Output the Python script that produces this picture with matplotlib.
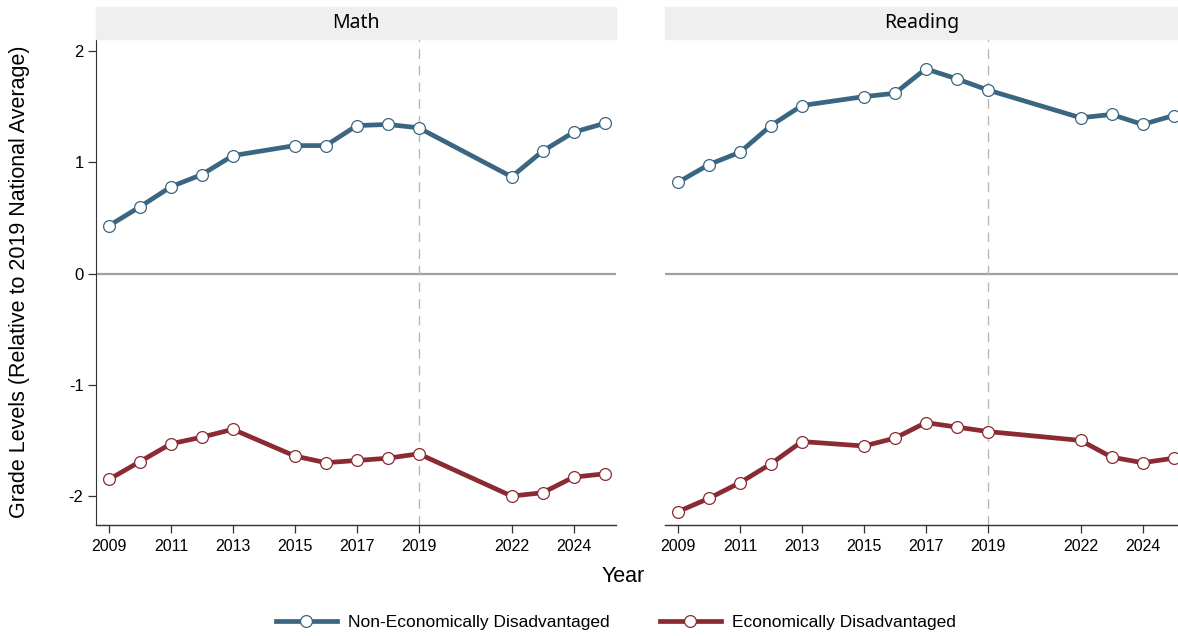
import matplotlib
matplotlib.use("Agg")
import matplotlib.pyplot as plt
from matplotlib.ticker import FuncFormatter
from matplotlib.lines import Line2D

years = [2009, 2010, 2011, 2012, 2013, 2015, 2016, 2017, 2018, 2019, 2022, 2023, 2024, 2025]
tick_years = [2009, 2011, 2013, 2015, 2017, 2019, 2022, 2024]

math_non_ed = [0.43, 0.60, 0.78, 0.89, 1.06, 1.15, 1.15, 1.33, 1.34, 1.31, 0.87, 1.10, 1.27, 1.35]
math_ed = [-1.85, -1.69, -1.53, -1.47, -1.40, -1.64, -1.70, -1.68, -1.66, -1.62, -2.00, -1.97, -1.83, -1.80]
read_non_ed = [0.82, 0.98, 1.09, 1.33, 1.51, 1.59, 1.62, 1.84, 1.75, 1.65, 1.40, 1.43, 1.34, 1.42]
read_ed = [-2.14, -2.02, -1.88, -1.71, -1.51, -1.55, -1.48, -1.34, -1.38, -1.42, -1.50, -1.65, -1.70, -1.66]

panels = ["Math", "Reading"]
series_labels = ["Non-Economically Disadvantaged", "Economically Disadvantaged"]
colors = ["#3b6681", "#8b2a33"]

W, H = 1178, 636
fig = plt.figure(figsize=(W / 100, H / 100), dpi=100)

narrow = ["Liberation Sans Narrow", "Liberation Sans", "DejaVu Sans"]


def px_axes(left, top, right, bottom):
    return [left / W, 1 - bottom / H, (right - left) / W, (bottom - top) / H]


ax_math = fig.add_axes(px_axes(96, 39, 616, 525))
ax_read = fig.add_axes(px_axes(665, 39, 1185, 525))

data = {"Math": (math_non_ed, math_ed), "Reading": (read_non_ed, read_ed)}
strip_top, strip_bottom = 7, 39

for ax, name in zip([ax_math, ax_read], panels):
    ax.set_xlim(2008.58, 2025.37)
    ax.set_ylim(-2.26, 2.108)
    ax.axhline(0, color="#a0a0a0", lw=1.6, zorder=1)
    ax.axvline(2019, color="#b8b8b8", lw=1.0, ls=(0, (7, 5)), zorder=1)
    for vals, c in zip(data[name], colors):
        ax.plot(years, vals, color=c, lw=3.4, marker="o", ms=8.5,
                mfc="white", mec=c, mew=0.9, zorder=3, solid_capstyle="butt")
    for s in ["top", "right"]:
        ax.spines[s].set_visible(False)
    ax.spines["bottom"].set_color("#333333")
    ax.spines["bottom"].set_linewidth(1.0)
    ax.set_xticks(tick_years)
    ax.set_xticklabels([str(y) for y in tick_years], fontfamily=narrow, fontsize=11.5)
    ax.tick_params(axis="x", length=6, width=0.9, color="#333333", pad=4)

    # facet strip with the subject name
    pos = ax.get_position()
    x0, x1 = pos.x0, min(pos.x1, 1.0)
    fig.patches.append(plt.Rectangle((x0, 1 - strip_bottom / H), x1 - x0,
                                     (strip_bottom - strip_top) / H,
                                     transform=fig.transFigure, color="#efefef", zorder=0))
    fig.text((x0 + x1) / 2, 1 - 23 / H, name, ha="center", va="center", fontsize=14,
             family=["Noto Sans", "DejaVu Sans"])

ax_math.set_yticks([-2, -1, 0, 1, 2])
ax_math.yaxis.set_major_formatter(FuncFormatter(lambda v, p: f"{int(v)}"))
for lab in ax_math.get_yticklabels():
    lab.set_fontfamily(narrow)
    lab.set_fontsize(12)
ax_math.tick_params(axis="y", length=6, width=0.9, color="#333333", pad=3)
ax_math.spines["left"].set_color("#333333")

ax_read.spines["left"].set_visible(False)
ax_read.set_yticks([])

fig.text(20 / W, 1 - 282 / H, "Grade Levels (Relative to 2019 National Average)",
         rotation=90, ha="center", va="center", fontsize=15.5,
         family=["Liberation Sans", "DejaVu Sans"])
fig.text(623 / W, 1 - 577 / H, "Year", ha="center", va="center", fontsize=15.5,
         family=narrow)

handles = [Line2D([], [], color=c, lw=3.4, marker="o", ms=8.5, mfc="white", mec=c, mew=0.9)
           for c in colors]
fig.legend(handles, series_labels, loc="center", bbox_to_anchor=(616 / W, 1 - 622 / H),
           ncol=2, frameon=False, handlelength=3.5, columnspacing=2.9, handletextpad=0.65,
           prop={"family": narrow, "size": 12.5})

fig.savefig("out.png", dpi=100)
